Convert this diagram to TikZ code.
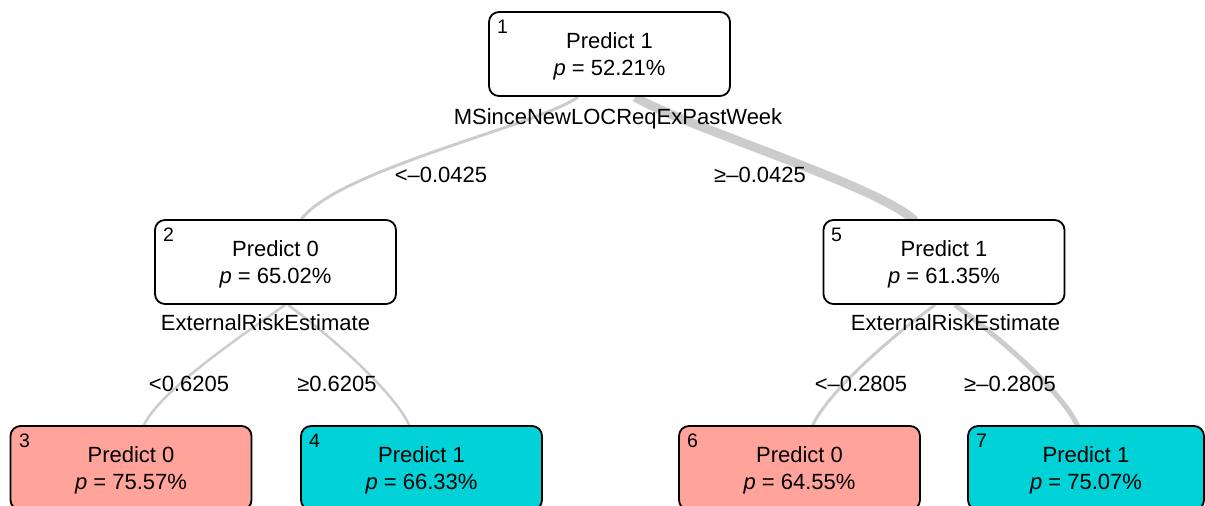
\documentclass[tikz,border=0pt]{standalone}
\usepackage{fontspec}
\setmainfont{Liberation Sans}
\definecolor{salmon}{HTML}{FFA39B}
\definecolor{cyanleaf}{HTML}{00D2D7}
\definecolor{edgegray}{HTML}{CCCCCC}
\begin{document}
\begin{tikzpicture}[x=1pt,y=-1pt,
  box/.style={draw=black, line width=1.8pt, rounded corners=10pt, minimum width=241pt, minimum height=84pt, inner sep=0pt},
  inner/.style={box, fill=white},
  leaf0/.style={box, fill=salmon},
  leaf1/.style={box, fill=cyanleaf},
  txt/.style={anchor=base, inner sep=0pt, font=\fontsize{22}{24}\selectfont},
  num/.style={anchor=north west, inner sep=0pt, font=\fontsize{19.5}{21}\selectfont},
  edge/.style={draw=edgegray, line cap=butt}
]
\useasboundingbox (0,0) rectangle (1205,506);
% anchor coordinates for connectors
\coordinate (s12) at (578,97);
\coordinate (e12) at (300,221);
\coordinate (s15) at (635,97);
\coordinate (e15) at (915,221);
\coordinate (s23) at (285,305);
\coordinate (e23) at (143,427);
\coordinate (s24) at (288,305);
\coordinate (e24) at (410,427);
\coordinate (s56) at (935,305);
\coordinate (e56) at (812,427);
\coordinate (s57) at (955,305);
\coordinate (e57) at (1078,427);
% connectors
\draw[edge, line width=3pt] (s12) .. controls (540,125) and (335,170) .. (e12);
\draw[edge, line width=9pt] (s15) .. controls (685,127) and (880,186) .. (e15);
\draw[edge, line width=2.5pt] (s23) .. controls (250,330) and (158,391) .. (e23);
\draw[edge, line width=2.5pt] (s24) .. controls (323,330) and (395,391) .. (e24);
\draw[edge, line width=3pt] (s56) .. controls (900,330) and (827,391) .. (e56);
\draw[edge, line width=5pt] (s57) .. controls (990,330) and (1063,391) .. (e57);
% boxes
\node[inner] (n1) at (609.5,54) {};
\node[inner] (n2) at (275.5,262) {};
\node[inner] (n5) at (944,262) {};
\node[leaf0] (n3) at (131,468) {};
\node[leaf1] (n4) at (421.5,468) {};
\node[leaf0] (n6) at (799.5,468) {};
\node[leaf1, minimum width=236pt] (n7) at (1086,468) {};
% node texts
\node[num] (k1) at (497,20) {1};
\node[txt] (a1) at (609.5,48) {Predict 1};
\node[txt] (b1) at (609.5,75) {\textit{p} = 52.21\%};
\node[num] (k2) at (163,228) {2};
\node[txt] (a2) at (275.5,256) {Predict 0};
\node[txt] (b2) at (275.5,283) {\textit{p} = 65.02\%};
\node[num] (k5) at (831,228) {5};
\node[txt] (a5) at (944,256) {Predict 1};
\node[txt] (b5) at (944,283) {\textit{p} = 61.35\%};
\node[num] (k3) at (19,434) {3};
\node[txt] (a3) at (131,462) {Predict 0};
\node[txt] (b3) at (131,489) {\textit{p} = 75.57\%};
\node[num] (k4) at (309,434) {4};
\node[txt] (a4) at (421.5,462) {Predict 1};
\node[txt] (b4) at (421.5,489) {\textit{p} = 66.33\%};
\node[num] (k6) at (687,434) {6};
\node[txt] (a6) at (799.5,462) {Predict 0};
\node[txt] (b6) at (799.5,489) {\textit{p} = 64.55\%};
\node[num] (k7) at (976,434) {7};
\node[txt] (a7) at (1086,462) {Predict 1};
\node[txt] (b7) at (1086,489) {\textit{p} = 75.07\%};
% split variables
\node[txt] (v1) at (618,124) {MSinceNewLOCReqExPastWeek};
\node[txt] (v2) at (265.5,330) {ExternalRiskEstimate};
\node[txt] (v5) at (955.5,330) {ExternalRiskEstimate};
% edge labels
\node[txt] (l12) at (441,182) {<–0.0425};
\node[txt] (l15) at (760,182) {≥–0.0425};
\node[txt] (l23) at (189,391) {<0.6205};
\node[txt] (l24) at (337,391) {≥0.6205};
\node[txt] (l56) at (861,391) {<–0.2805};
\node[txt] (l57) at (1010,391) {≥–0.2805};
\end{tikzpicture}
\end{document}
